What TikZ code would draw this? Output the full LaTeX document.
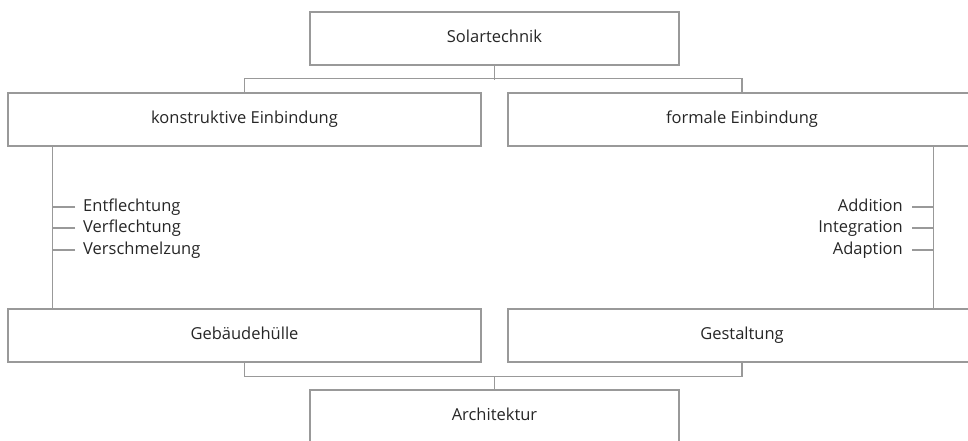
\documentclass[tikz,border=0pt]{standalone}
\usepackage{fontspec}
\setmainfont{Open Sans}
\usetikzlibrary{calc}

\definecolor{linegray}{gray}{0.6}
\definecolor{textgray}{gray}{0.15}

\tikzset{
  box/.style={draw=linegray, line width=1.1pt, minimum height=53pt,
    inner sep=0pt, text height=12pt, text depth=4pt,
    text=textgray, font=\fontsize{16.5}{19}\selectfont},
  link/.style={draw=linegray, line width=1.1pt},
  lbl/.style={inner sep=0pt, text height=12pt, text depth=4pt,
    text=textgray, font=\fontsize{16.5}{19}\selectfont}
}

\begin{document}
\begin{tikzpicture}[x=1pt, y=-1pt]
  \useasboundingbox (0,0) rectangle (968,440);

  % Kästen
  \node[box, minimum width=369pt] (sol)  at (494.5,38.5)  {Solartechnik};
  \node[box, minimum width=473pt] (kon)  at (244.5,119.5) {konstruktive Einbindung};
  \node[box, minimum width=468pt] (form) at (742,119.5)   {formale Einbindung};
  \node[box, minimum width=473pt] (geb)  at (244.5,335.5) {Gebäudehülle};
  \node[box, minimum width=468pt] (gest) at (742,335.5)   {Gestaltung};
  \node[box, minimum width=369pt] (arch) at (494.5,416.5) {Architektur};

  % Klammer oben
  \draw[link] (sol.south) -- ++(0,14);
  \draw[link] (kon.north) -- ++(0,-14) -| (form.north);
  % Klammer unten
  \draw[link] (geb.south) -- ++(0,14) -| (gest.south);
  \draw[link] (arch.north) -- ++(0,-13);

  % Seitenlinien
  \coordinate (ltop) at ($(kon.south west)+(45,0)$);
  \coordinate (lbot) at ($(geb.north west)+(45,0)$);
  \coordinate (rtop) at ($(form.south west)+(426,0)$);
  \coordinate (rbot) at ($(gest.north west)+(426,0)$);
  \draw[link] (ltop) -- (lbot);
  \draw[link] (rtop) -- (rbot);

  % Begriffe links
  \foreach \name/\txt/\y in {ent/Entflechtung/207, ver/Verflechtung/228, vsm/Verschmelzung/250} {
    \node[lbl, anchor=west] (\name) at (83,\y) {\txt};
    \draw[link] ([xshift=-8pt]\name.west) -- (\name.west -| ltop);
  }
  % Begriffe rechts
  \foreach \name/\txt/\y in {add/Addition/207, int/Integration/228, ada/Adaption/250} {
    \node[lbl, anchor=east] (\name) at (903,\y) {\txt};
    \draw[link] ([xshift=9pt]\name.east) -- (\name.east -| rtop);
  }
\end{tikzpicture}
\end{document}
